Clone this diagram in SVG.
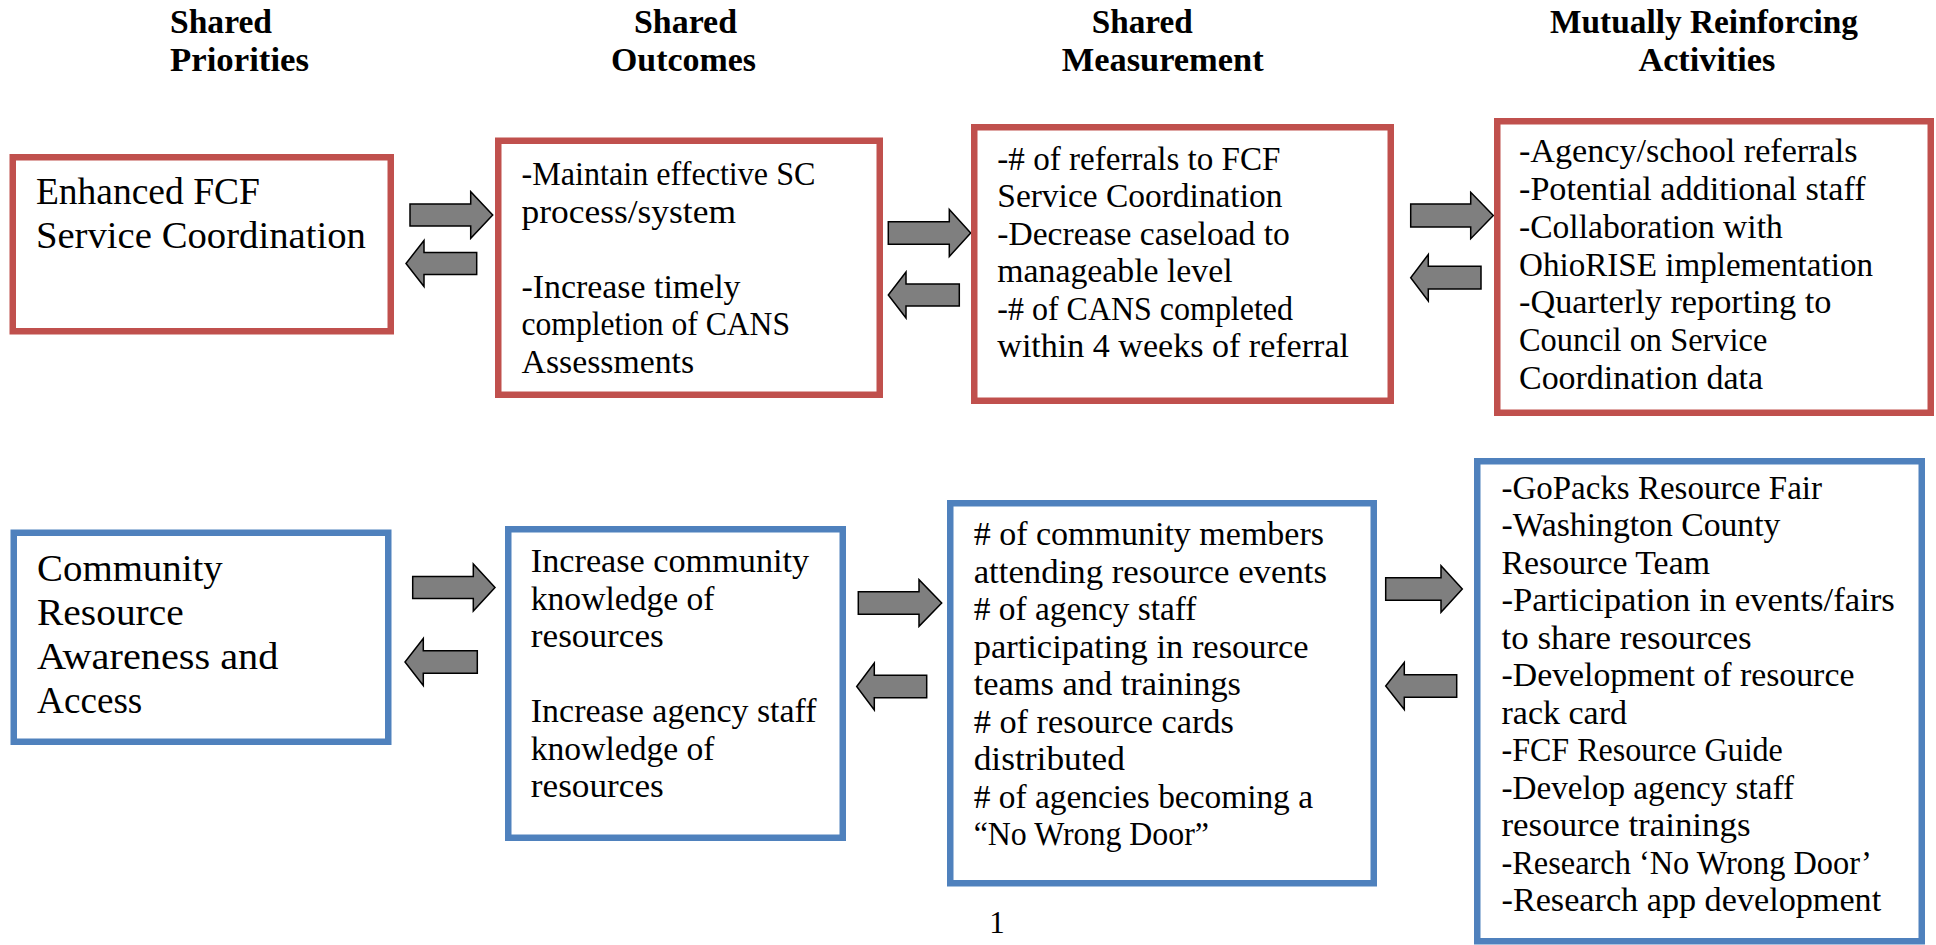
<svg xmlns="http://www.w3.org/2000/svg" width="1936" height="945" viewBox="0 0 1936 945">
<style>
  .bg{fill:#ffffff}
  .red{fill:#ffffff;stroke:#C0504D;stroke-width:6.5}
  .blue{fill:#ffffff;stroke:#4F81BD;stroke-width:6.5}
  .arrow{fill:#7F7F7F;stroke:#000000;stroke-width:1.5;stroke-linejoin:miter}
  text{font-family:"Liberation Serif","Times New Roman",serif;fill:#000000}
  .h{font-size:34px;font-weight:bold}
  .ti{font-size:38px}
  .t{font-size:33px}
  .pg{font-size:31px}
</style>
<rect class="bg" x="0" y="0" width="1936" height="945"/>

<g id="headers">
  <text class="h" x="170" y="33" textLength="102" lengthAdjust="spacingAndGlyphs">Shared</text>
  <text class="h" x="170" y="71" textLength="139" lengthAdjust="spacingAndGlyphs">Priorities</text>
  <text class="h" x="634" y="33" textLength="103" lengthAdjust="spacingAndGlyphs">Shared</text>
  <text class="h" x="611" y="71" textLength="145" lengthAdjust="spacingAndGlyphs">Outcomes</text>
  <text class="h" x="1091.7" y="33" textLength="101" lengthAdjust="spacingAndGlyphs">Shared</text>
  <text class="h" x="1061.7" y="71" textLength="202" lengthAdjust="spacingAndGlyphs">Measurement</text>
  <text class="h" x="1550" y="33" textLength="308" lengthAdjust="spacingAndGlyphs">Mutually Reinforcing</text>
  <text class="h" x="1638.4" y="71" textLength="137" lengthAdjust="spacingAndGlyphs">Activities</text>
</g>

<g id="connectors">
  <polygon class="arrow" points="410,204 470.7,204 470.7,191.7 492.7,215 470.7,238.3 470.7,226 410,226"/>
  <polygon class="arrow" points="476.7,252.5 424,252.5 424,240.5 406,263.5 424,286.5 424,274.5 476.7,274.5"/>
  <polygon class="arrow" points="888.3,221.7 949.3,221.7 949.3,209.5 970.7,233 949.3,256.5 949.3,244.3 888.3,244.3"/>
  <polygon class="arrow" points="959.3,284 906,284 906,272 888.3,295 906,318 906,306 959.3,306"/>
  <polygon class="arrow" points="1410.7,204 1470.7,204 1470.7,192.3 1493.3,215.5 1470.7,238.7 1470.7,227 1410.7,227"/>
  <polygon class="arrow" points="1481,266.3 1428.3,266.3 1428.3,254.5 1410.7,277.7 1428.3,301 1428.3,289 1481,289"/>
  <polygon class="arrow" points="412.7,576.5 473.3,576.5 473.3,564 495,587.5 473.3,611 473.3,598.5 412.7,598.5"/>
  <polygon class="arrow" points="477.3,650.7 423.3,650.7 423.3,638.5 405,662 423.3,685.5 423.3,673.3 477.3,673.3"/>
  <polygon class="arrow" points="858.3,591.7 919,591.7 919,579.7 941.7,603 919,626.3 919,614.3 858.3,614.3"/>
  <polygon class="arrow" points="926.7,675.2 874.3,675.2 874.3,663 856.7,686.5 874.3,710 874.3,697.8 926.7,697.8"/>
  <polygon class="arrow" points="1385.7,577.7 1441,577.7 1441,565.7 1462.3,589 1441,612.3 1441,600.3 1385.7,600.3"/>
  <polygon class="arrow" points="1456.7,674.7 1404.3,674.7 1404.3,662.5 1385.7,686 1404.3,709.5 1404.3,697.3 1456.7,697.3"/>
</g>

<g id="priority-fcf">
  <rect class="red" x="12.75" y="157.25" width="378" height="174"/>
  <text class="ti" x="35.9" y="204" textLength="224" lengthAdjust="spacingAndGlyphs">Enhanced FCF</text>
  <text class="ti" x="35.9" y="248.3" textLength="330" lengthAdjust="spacingAndGlyphs">Service Coordination</text>
</g>

<g id="outcomes-fcf">
  <rect class="red" x="498.25" y="140.75" width="381.5" height="254"/>
  <text class="t" x="521.5" y="185" textLength="294" lengthAdjust="spacingAndGlyphs">-Maintain effective SC</text>
  <text class="t" x="521.5" y="222.5" textLength="214.5" lengthAdjust="spacingAndGlyphs">process/system</text>
  <text class="t" x="521.5" y="297.5" textLength="219" lengthAdjust="spacingAndGlyphs">-Increase timely</text>
  <text class="t" x="521.5" y="335" textLength="268.5" lengthAdjust="spacingAndGlyphs">completion of CANS</text>
  <text class="t" x="521.5" y="372.5" textLength="172.6" lengthAdjust="spacingAndGlyphs">Assessments</text>
</g>

<g id="measurement-fcf">
  <rect class="red" x="974.25" y="127.25" width="416.5" height="273.5"/>
  <text class="t" x="997.3" y="169.5" textLength="283.2" lengthAdjust="spacingAndGlyphs">-# of referrals to FCF</text>
  <text class="t" x="997.3" y="207" textLength="285.1" lengthAdjust="spacingAndGlyphs">Service Coordination</text>
  <text class="t" x="997.3" y="244.5" textLength="292.6" lengthAdjust="spacingAndGlyphs">-Decrease caseload to</text>
  <text class="t" x="997.3" y="282" textLength="235.3" lengthAdjust="spacingAndGlyphs">manageable level</text>
  <text class="t" x="997.3" y="319.5" textLength="295.7" lengthAdjust="spacingAndGlyphs">-# of CANS completed</text>
  <text class="t" x="997.3" y="357" textLength="351.7" lengthAdjust="spacingAndGlyphs">within 4 weeks of referral</text>
</g>

<g id="activities-fcf">
  <rect class="red" x="1497.25" y="121.25" width="433.5" height="291.5"/>
  <text class="t" x="1519" y="162" textLength="338.5" lengthAdjust="spacingAndGlyphs">-Agency/school referrals</text>
  <text class="t" x="1519" y="200" textLength="346.6" lengthAdjust="spacingAndGlyphs">-Potential additional staff</text>
  <text class="t" x="1519" y="237.5" textLength="263.8" lengthAdjust="spacingAndGlyphs">-Collaboration with</text>
  <text class="t" x="1519" y="275.5" textLength="354" lengthAdjust="spacingAndGlyphs">OhioRISE implementation</text>
  <text class="t" x="1519" y="313" textLength="312.4" lengthAdjust="spacingAndGlyphs">-Quarterly reporting to</text>
  <text class="t" x="1519" y="351" textLength="248.3" lengthAdjust="spacingAndGlyphs">Council on Service</text>
  <text class="t" x="1519" y="388.5" textLength="244" lengthAdjust="spacingAndGlyphs">Coordination data</text>
</g>

<g id="priority-community">
  <rect class="blue" x="13.75" y="532.75" width="374.5" height="209"/>
  <text class="ti" x="37.1" y="580.6" textLength="185.6" lengthAdjust="spacingAndGlyphs">Community</text>
  <text class="ti" x="37.1" y="625" textLength="146.6" lengthAdjust="spacingAndGlyphs">Resource</text>
  <text class="ti" x="37.1" y="669.4" textLength="241.3" lengthAdjust="spacingAndGlyphs">Awareness and</text>
  <text class="ti" x="37.1" y="713" textLength="105.2" lengthAdjust="spacingAndGlyphs">Access</text>
</g>

<g id="outcomes-community">
  <rect class="blue" x="508.25" y="529.25" width="334.5" height="308.5"/>
  <text class="t" x="530.8" y="572" textLength="278.4" lengthAdjust="spacingAndGlyphs">Increase community</text>
  <text class="t" x="530.8" y="609.5" textLength="183.7" lengthAdjust="spacingAndGlyphs">knowledge of</text>
  <text class="t" x="530.8" y="647" textLength="133" lengthAdjust="spacingAndGlyphs">resources</text>
  <text class="t" x="530.8" y="722" textLength="285.8" lengthAdjust="spacingAndGlyphs">Increase agency staff</text>
  <text class="t" x="530.8" y="759.5" textLength="183.7" lengthAdjust="spacingAndGlyphs">knowledge of</text>
  <text class="t" x="530.8" y="797" textLength="133" lengthAdjust="spacingAndGlyphs">resources</text>
</g>

<g id="measurement-community">
  <rect class="blue" x="950.25" y="503.25" width="423.5" height="380"/>
  <text class="t" x="973.7" y="545" textLength="350.3" lengthAdjust="spacingAndGlyphs"># of community members</text>
  <text class="t" x="973.7" y="582.5" textLength="353.3" lengthAdjust="spacingAndGlyphs">attending resource events</text>
  <text class="t" x="973.7" y="620" textLength="222.8" lengthAdjust="spacingAndGlyphs"># of agency staff</text>
  <text class="t" x="973.7" y="657.5" textLength="334.9" lengthAdjust="spacingAndGlyphs">participating in resource</text>
  <text class="t" x="973.7" y="695" textLength="267.3" lengthAdjust="spacingAndGlyphs">teams and trainings</text>
  <text class="t" x="973.7" y="732.5" textLength="260.2" lengthAdjust="spacingAndGlyphs"># of resource cards</text>
  <text class="t" x="973.7" y="770" textLength="151.3" lengthAdjust="spacingAndGlyphs">distributed</text>
  <text class="t" x="973.7" y="807.5" textLength="339.3" lengthAdjust="spacingAndGlyphs"># of agencies becoming a</text>
  <text class="t" x="973.7" y="845" textLength="235.3" lengthAdjust="spacingAndGlyphs">“No Wrong Door”</text>
</g>

<g id="activities-community">
  <rect class="blue" x="1477.25" y="461.25" width="444.5" height="480"/>
  <text class="t" x="1501.5" y="498.7" textLength="320.5" lengthAdjust="spacingAndGlyphs">-GoPacks Resource Fair</text>
  <text class="t" x="1501.5" y="536.2" textLength="278.9" lengthAdjust="spacingAndGlyphs">-Washington County</text>
  <text class="t" x="1501.5" y="573.7" textLength="208.5" lengthAdjust="spacingAndGlyphs">Resource Team</text>
  <text class="t" x="1501.5" y="611.2" textLength="393.4" lengthAdjust="spacingAndGlyphs">-Participation in events/fairs</text>
  <text class="t" x="1501.5" y="648.7" textLength="250.2" lengthAdjust="spacingAndGlyphs">to share resources</text>
  <text class="t" x="1501.5" y="686.2" textLength="352.9" lengthAdjust="spacingAndGlyphs">-Development of resource</text>
  <text class="t" x="1501.5" y="723.7" textLength="125.5" lengthAdjust="spacingAndGlyphs">rack card</text>
  <text class="t" x="1501.5" y="761.2" textLength="281.3" lengthAdjust="spacingAndGlyphs">-FCF Resource Guide</text>
  <text class="t" x="1501.5" y="798.7" textLength="292.5" lengthAdjust="spacingAndGlyphs">-Develop agency staff</text>
  <text class="t" x="1501.5" y="836.2" textLength="249" lengthAdjust="spacingAndGlyphs">resource trainings</text>
  <text class="t" x="1501.5" y="873.7" textLength="370.4" lengthAdjust="spacingAndGlyphs">-Research ‘No Wrong Door’</text>
  <text class="t" x="1501.5" y="911.2" textLength="379.7" lengthAdjust="spacingAndGlyphs">-Research app development</text>
</g>

<g id="page-number">
  <text class="pg" x="997" y="933" text-anchor="middle">1</text>
</g>
</svg>
